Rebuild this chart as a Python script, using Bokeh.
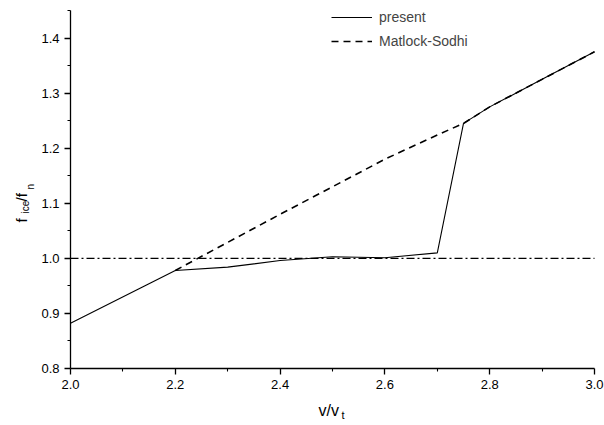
import math
from bokeh.plotting import figure
from bokeh.models import (Legend, LegendItem, Label, FixedTicker, Range1d)
from bokeh.embed import file_html
from bokeh.resources import INLINE

# data
present_x = [2.0, 2.2, 2.3, 2.4, 2.5, 2.6, 2.7, 2.75, 2.8, 2.9, 3.0]
present_y = [0.882, 0.978, 0.984, 0.996, 1.003, 1.001, 1.010, 1.245, 1.275, 1.325, 1.375]
matlock_x = [2.2, 2.3, 2.4, 2.5, 2.6, 2.7, 2.75, 2.8, 2.9, 3.0]
matlock_y = [0.978, 1.029, 1.080, 1.130, 1.180, 1.224, 1.245, 1.275, 1.325, 1.375]
ref_level = 1.0
x_ticks = [2.0, 2.2, 2.4, 2.6, 2.8, 3.0]
x_minor = [2.1, 2.3, 2.5, 2.7, 2.9]
y_ticks = [0.8, 0.9, 1.0, 1.1, 1.2, 1.3, 1.4]
y_minor = [0.85, 0.95, 1.05, 1.15, 1.25, 1.35, 1.45]
x_lo, x_hi = 2.0, 3.0
y_lo, y_hi = 0.8, 1.45

FONT = "Liberation Sans"
W, H = 604, 425
PAD_TOP, PAD_RIGHT = 10, 10   # room above/right of the axes
AX_LEFT, AX_BOTTOM = 70, 57   # room for the axes and their labels

# the frame covers the whole canvas; the axes sit at fixed data locations
px_x = (W - PAD_RIGHT - AX_LEFT) / (x_hi - x_lo)
px_y = (H - PAD_TOP - AX_BOTTOM) / (y_hi - y_lo)
x_range = Range1d(x_lo - AX_LEFT / px_x, x_hi + PAD_RIGHT / px_x)
y_range = Range1d(y_lo - AX_BOTTOM / px_y, y_hi + PAD_TOP / px_y)

p = figure(width=W, height=H, output_backend="svg", toolbar_location=None,
           x_range=x_range, y_range=y_range,
           min_border_left=0, min_border_bottom=0, min_border_top=0,
           min_border_right=0, background_fill_color="white",
           border_fill_color="white")
p.outline_line_color = None
p.grid.visible = False

for ax, major, minor, loc, bnds in ((p.xaxis[0], x_ticks, x_minor, y_lo, (x_lo, x_hi)),
                                    (p.yaxis[0], y_ticks, y_minor, x_lo, (y_lo, y_hi))):
    ax.fixed_location = loc
    ax.bounds = bnds
    ax.ticker = FixedTicker(ticks=major, minor_ticks=minor)
    ax.major_tick_out = 6
    ax.major_tick_in = 0
    ax.minor_tick_out = 3
    ax.minor_tick_in = 0
    ax.axis_line_color = "black"
    ax.axis_line_width = 1.3
    ax.major_tick_line_color = "black"
    ax.minor_tick_line_color = "black"
    ax.major_tick_line_width = 1.3
    ax.minor_tick_line_width = 1.1
    ax.major_label_text_font = FONT
    ax.major_label_text_font_size = "13px"
    ax.major_label_text_color = "black"
    ax.major_label_standoff = 5

p.xaxis[0].major_label_overrides = {t: f"{t:.1f}" for t in x_ticks}
p.yaxis[0].major_label_overrides = {t: f"{t:.1f}" for t in y_ticks}

# reference level (dash-dot) across the data domain
p.segment(x0=[x_lo], y0=[ref_level], x1=[x_hi], y1=[ref_level],
          line_color="black", line_width=1.3, line_dash="8 3 2 3")

r1 = p.line(present_x, present_y, line_color="black", line_width=1.1)
r2 = p.line(matlock_x, matlock_y, line_color="black", line_width=1.6, line_dash="7 5")

legend = Legend(items=[LegendItem(label="present", renderers=[r1]),
                       LegendItem(label="Matlock-Sodhi", renderers=[r2])],
                location=(331, 374), border_line_color=None,
                background_fill_alpha=0, padding=0, margin=0, spacing=4,
                glyph_width=41, glyph_height=20, label_height=20,
                label_standoff=7, label_text_font=FONT,
                label_text_font_size="14px")
p.add_layout(legend, "center")


def lab(cx, cy, text, size, angle=0.0):
    # cx, cy: canvas pixels of the text anchor (baseline start); the frame
    # origin is the canvas bottom-left corner here
    p.add_layout(Label(x=cx, y=H - cy, x_units="screen", y_units="screen",
                       text=text, angle=angle, text_baseline="alphabetic",
                       text_font=FONT, text_font_size=size, text_color="black"))


# x axis label v/v_t
lab(318, 410, "v/v", "16px")
lab(341, 414, "t", "11px")

# y axis label f_ice/f_n (rotated)
ang = math.pi / 2
lab(21, 222, "f", "15px", ang)
lab(25, 213, "ice", "10px", ang)
lab(21, 201, "/f", "15px", ang)
lab(30, 189, "n", "10px", ang)

open("out.html", "w").write(file_html(p, INLINE))
